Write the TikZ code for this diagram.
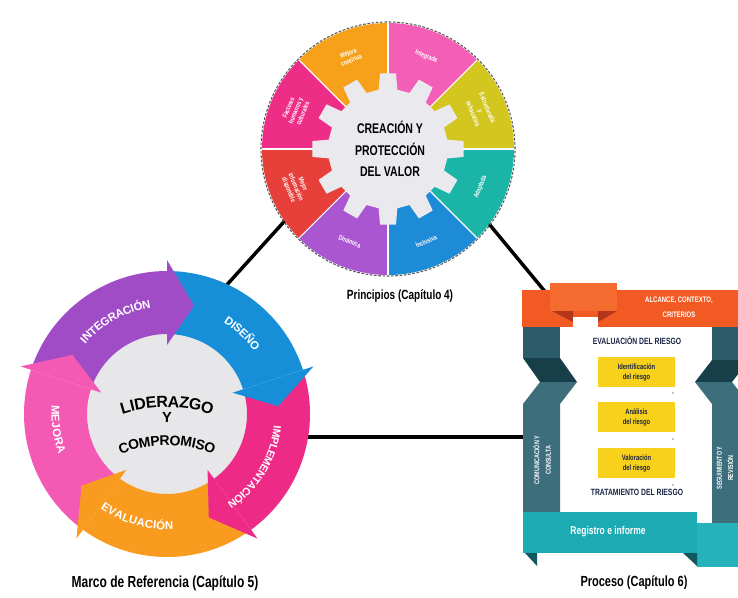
\documentclass[tikz,border=0pt]{standalone}
\usepackage{fontspec}
\setmainfont{Liberation Sans}
\newfontfamily\condfont[FakeStretch=0.75]{Liberation Sans}
\usetikzlibrary{decorations.text}
\definecolor{wOrange}{HTML}{F7A11A}
\definecolor{wPink}{HTML}{F35FB6}
\definecolor{wYellow}{HTML}{D3C61F}
\definecolor{wTeal}{HTML}{1AB5A6}
\definecolor{wBlue}{HTML}{1E8BD6}
\definecolor{wPurple}{HTML}{A956D0}
\definecolor{wRed}{HTML}{E7403B}
\definecolor{wMagenta}{HTML}{EE2E86}
\definecolor{gearGray}{HTML}{EAEAEE}
\definecolor{fPurple}{HTML}{A14CC7}
\definecolor{fBlue}{HTML}{168FD8}
\definecolor{fMagenta}{HTML}{EE2A87}
\definecolor{fOrange}{HTML}{F89B1E}
\definecolor{fPink}{HTML}{F45AB4}
\definecolor{fGray}{HTML}{E7E7EA}
\definecolor{prOrange}{HTML}{F25A24}
\definecolor{prTab}{HTML}{F66B30}
\definecolor{prDarkRed}{HTML}{B3361B}
\definecolor{prTeal}{HTML}{2C5C69}
\definecolor{prDark}{HTML}{173F49}
\definecolor{prSlate}{HTML}{3D6E7B}
\definecolor{prBar}{HTML}{1DABB3}
\definecolor{prBar2}{HTML}{25B2BA}
\definecolor{prFold}{HTML}{105961}
\definecolor{prYellow}{HTML}{F7D11C}
\definecolor{prNavy}{HTML}{1B2445}
\begin{document}
\begin{tikzpicture}[x=0.75pt,y=-0.75pt,
  conn/.style={line width=2.6pt, black},
  wedgetxt/.style={text=white, font=\condfont\bfseries\fontsize{5.2}{5.8}\selectfont, align=center, inner sep=0pt},
  caption/.style={text=black, inner sep=0pt},
  ybox/.style={fill=prYellow, minimum width=57.75pt, minimum height=22.5pt, inner sep=0pt, align=center,
     text=prNavy, font=\condfont\bfseries\fontsize{5.8}{7.5}\selectfont},
  prhead/.style={text=prNavy, inner sep=0pt, font=\condfont\bfseries\fontsize{6.8}{7}\selectfont},
  coltxt/.style={text=white, inner sep=0pt, align=center, rotate=90, font=\condfont\bfseries\fontsize{5.4}{8.5}\selectfont},
  bandtxt/.style={decorate, decoration={text along path, text align=center, raise=-3pt, text color=white}},
  lidtxt/.style={decorate, decoration={text along path, text align=center, raise=-4pt, text color=black}},
]
\useasboundingbox (0,0) rectangle (738,597);
\clip (0,0) rectangle (738,597);
\fill[white] (0,0) rectangle (738,597);

% ---------- connectors ----------
\coordinate (c1a) at (300,204); \coordinate (c1b) at (205,309);
\coordinate (c2a) at (480,213); \coordinate (c2b) at (552,300);
\coordinate (c3a) at (290,437); \coordinate (c3b) at (530,437);
\draw[conn] (c1a) -- (c1b);
\draw[conn] (c2a) -- (c2b);
\draw[conn] (c3a) -- (c3b);

% ---------- Principles ----------
\begin{scope}[shift={(388,149)}, y=0.75pt]
  \foreach \a/\c in {45/wPink, 0/wYellow, -45/wTeal, -90/wBlue, -135/wPurple, 180/wRed, 135/wMagenta, 90/wOrange}
    \fill[\c] (0,0) -- (\a:126) arc[start angle=\a, delta angle=45, radius=126] -- cycle;
  \foreach \a in {0,45,...,315}
    \draw[white, line width=0.8pt] (0,0) -- (\a:126);
  \draw[black!65, line width=0.8pt, dash pattern=on 2pt off 1.2pt] (0,0) circle[radius=127];
  \fill[gearGray] (-9:60) \foreach \i in {0,...,11} { -- ({\i*30-9}:60) -- ({\i*30-6}:76) -- ({\i*30+6}:76) -- ({\i*30+9}:60) } -- cycle;
  \node[align=center, inner sep=0pt, font=\condfont\bfseries\fontsize{10.5}{16}\selectfont] (valor) at (2,0) {CREACIÓN Y\\PROTECCIÓN\\DEL VALOR};
  \node[wedgetxt, rotate=-22.5] (w1) at (67.5:100) {Integrada};
  \node[wedgetxt, rotate=-67.5] (w2) at (22.5:100) {Estructurada\\y\\exhaustiva};
  \node[wedgetxt, rotate=67.5] (w3) at (-22.5:100) {Adaptada};
  \node[wedgetxt, rotate=22.5] (w4) at (-67.5:100) {Inclusiva};
  \node[wedgetxt, rotate=-22.5] (w5) at (-112.5:100) {Dinámica};
  \node[wedgetxt, rotate=-67.5] (w6) at (-157.5:100) {Mejor\\información\\disponible};
  \node[wedgetxt, rotate=67.5] (w7) at (157.5:100) {Factores\\humanos y\\culturales};
  \node[wedgetxt, rotate=22.5] (w8) at (112.5:100) {Mejora\\continua};
\end{scope}
\node[caption, font=\condfont\bfseries\fontsize{10}{10}\selectfont] (capP) at (400,296) {Principios (Capítulo 4)};

% ---------- Framework ----------
\begin{scope}[shift={(167,414)}, y=0.75pt]
  \fill[fGray] (0,0) circle[radius=84];
  \foreach \s/\e/\c in {162/90/fPurple, 90/18/fBlue, 18/-54/fMagenta, -54/-126/fOrange, -126/-198/fPink}
    \fill[\c] (\s:143) arc[start angle=\s, end angle=\e, radius=143] -- (\e:80)
      arc[start angle=\e, end angle=\s, radius=80] -- ({\s-14}:111.5) -- cycle;
  \foreach \e/\c in {90/fPurple, 18/fBlue, -54/fMagenta, -126/fOrange, -198/fPink}
    \fill[\c] (\e:154) -- ({\e-14}:111.5) -- (\e:69) -- cycle;
  \path[bandtxt, decoration={text={|\bfseries\fontsize{8.5}{8.5}\selectfont|INTEGRACIÓN}}]
    (151:111.5) arc[start angle=151, end angle=87, radius=111.5];
  \path[bandtxt, decoration={text={|\bfseries\fontsize{8.5}{8.5}\selectfont|DISEÑO}}]
    (77:111.5) arc[start angle=77, end angle=17, radius=111.5];
  \path[bandtxt, decoration={text={|\bfseries\fontsize{8}{8}\selectfont|IMPLEMENTACIÓN}}]
    (6:111.5) arc[start angle=6, end angle=-68, radius=111.5];
  \path[bandtxt, decoration={text={|\bfseries\fontsize{8.5}{8.5}\selectfont|EVALUACIÓN}}]
    (-140:111.5) arc[start angle=-140, end angle=-72, radius=111.5];
  \path[bandtxt, decoration={text={|\bfseries\fontsize{8.5}{8.5}\selectfont|MEJORA}}]
    (160:111.5) arc[start angle=160, end angle=216, radius=111.5];
  \path[lidtxt, decoration={text={|\bfseries\fontsize{12}{12}\selectfont|LIDERAZGO}}]
    (0,-138) ++(110:150) arc[start angle=110, end angle=70, radius=150];
  \node[inner sep=0pt, font=\bfseries\fontsize{11}{11}\selectfont] (ylid) at (0,-3) {Y};
  \path[lidtxt, decoration={text={|\bfseries\fontsize{10.5}{10.5}\selectfont|COMPROMISO}}]
    (0,-156) ++(111:130) arc[start angle=111, end angle=69, radius=130];
\end{scope}
\node[caption, font=\condfont\bfseries\fontsize{12}{12}\selectfont] (capM) at (165,583) {Marco de Referencia (Capítulo 5)};

% ---------- Process ----------
% top bar
\fill[prOrange] (522,290) rectangle (738,327);
\fill[prTab] (550,283) rectangle (617,311);
\fill[prDarkRed] (552,311) -- (573,311) -- (573,322) -- cycle;
\fill[prDarkRed] (598,311) -- (617,311) -- (598,322) -- cycle;
\fill[white] (573,317) rectangle (598,327);
\node[inner sep=0pt, align=center, text=white, font=\condfont\bfseries\fontsize{6}{11.5}\selectfont] (alc) at (679,307) {ALCANCE, CONTEXTO,\\CRITERIOS};
% left column
\fill[prTeal] (523,327) rectangle (560,358);
\fill[prDark] (523,358) -- (560,358) -- (577,382) -- (540,382) -- cycle;
\fill[prSlate] (540,382) -- (577,382) -- (560,404) -- (560,512) -- (523,512) -- (523,404) -- cycle;
\node[coltxt] (com) at (542,460) {COMUNICACIÓN Y\\CONSULTA};
% right column
\fill[prTeal] (712,327) rectangle (749,360);
\fill[prDark] (712,360) -- (749,360) -- (732,382) -- (695,382) -- cycle;
\fill[prSlate] (695,382) -- (732,382) -- (749,404) -- (749,525) -- (712,525) -- (712,404) -- cycle;
\node[coltxt] (seg) at (725,468) {SEGUIMIENTO Y\\REVISIÓN};
% bottom bar
\fill[prBar2] (697,523) rectangle (738,567);
\fill[prFold] (683,553) -- (697,553) -- (697,566) -- cycle;
\fill[prBar] (523,512) rectangle (697,553);
\fill[prFold] (525,553) -- (537,553) -- (537,566) -- cycle;
\node[inner sep=0pt, text=white, font=\condfont\bfseries\fontsize{8.5}{8.5}\selectfont] (reg) at (608,532) {Registro e informe};
% assessment
\node[prhead] (eval) at (637,341) {EVALUACIÓN DEL RIESGO};
\node[ybox] (ident) at (636.5,372) {Identificación\\del riesgo};
\node[ybox] (anal) at (636.5,417) {Análisis\\del riesgo};
\node[ybox] (valo) at (636.5,463) {Valoración\\del riesgo};
\fill[gray!60] (673,393) circle[radius=1.2];
\fill[gray!60] (673,439) circle[radius=1.2];
\fill[gray!60] (673,485) circle[radius=1.2];
\node[prhead] (trat) at (637,492) {TRATAMIENTO DEL RIESGO};
\node[caption, font=\condfont\bfseries\fontsize{11}{11}\selectfont] (capPr) at (634,583) {Proceso (Capítulo 6)};
\end{tikzpicture}
\end{document}
